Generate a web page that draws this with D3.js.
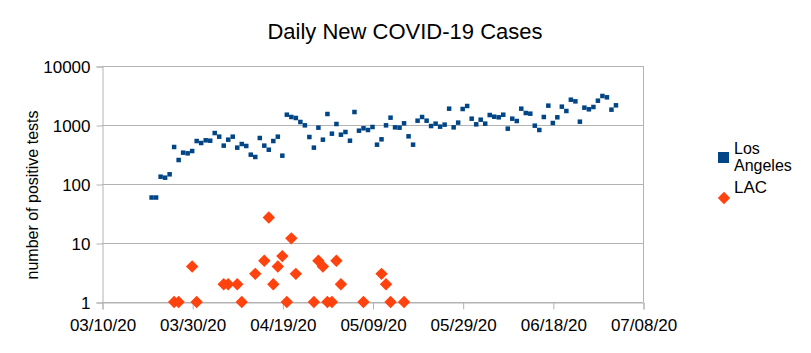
<!DOCTYPE html>
<html>
<head>
<meta charset="utf-8">
<script src="https://cdn.jsdelivr.net/npm/d3@7"></script>
<style>
  body { margin: 0; background: #fff; }
  text { font-family: "Liberation Sans", Arial, sans-serif; fill: #000; }
</style>
</head>
<body>
<div id="plot_area"></div>
<script>
// Chart data
const seriesNames = ['Los Angeles', 'LAC'];
const xTickDates = ['2020-03-10', '2020-03-30', '2020-04-19', '2020-05-09', '2020-05-29', '2020-06-18', '2020-07-08'];
const yTicks = [1, 10, 100, 1000, 10000];

// Los Angeles: one value per day starting on laStart
const laStart = '2020-03-21';
const laCases = [
  59, 59, 133, 128, 146, 424, 255, 340, 331, 362,
  535, 495, 550, 542, 731, 634, 447, 564, 634, 413,
  476, 441, 314, 287, 602, 447, 381, 535, 634, 302,
  1495, 1367, 1315, 1125, 987, 626, 413, 901, 564, 1536,
  713, 1040, 685, 761, 542, 1660, 801, 879, 823, 925,
  464, 572, 987, 1331, 912, 901, 1068, 643, 464, 1183,
  1367, 1183, 961, 1054, 937, 1014, 1891, 912, 1097, 1867,
  2099, 1280, 1026, 1230, 1054, 1476, 1383, 1350, 1495, 867,
  1280, 1168, 1891, 1597, 1556, 974, 823, 1367, 2128, 1081,
  1350, 2046, 1727, 2685, 2518, 1138, 1967, 1845, 2019, 2582,
  3103, 2946, 1820, 2155
];

// LAC: reported dates and values
const lacDates = [
  '2020-03-26', '2020-03-27', '2020-03-30', '2020-03-31', '2020-04-06', '2020-04-07',
  '2020-04-09', '2020-04-10', '2020-04-13', '2020-04-15', '2020-04-16', '2020-04-17',
  '2020-04-18', '2020-04-19', '2020-04-20', '2020-04-21', '2020-04-22', '2020-04-26',
  '2020-04-27', '2020-04-28', '2020-04-29', '2020-04-30', '2020-05-01', '2020-05-02',
  '2020-05-07', '2020-05-11', '2020-05-12', '2020-05-13', '2020-05-16'
];
const lacCases = [
  1, 1, 4, 1, 2, 2,
  2, 1, 3, 5, 27, 2,
  4, 6, 1, 12, 3, 1,
  5, 4, 1, 1, 5, 2,
  1, 3, 2, 1, 1
];

const w = 811;
const h = 353;
const plotLeft = 102, plotRight = 643, plotTop = 66, plotBottom = 302;
const blue = '#004586';
const orange = '#ff420e';
const grey = '#b3b3b3';

const parse = d3.utcParse('%Y-%m-%d');
const laData = laCases.map((v, i) => [d3.utcDay.offset(parse(laStart), i), v]);
const lacData = lacDates.map((d, i) => [parse(d), lacCases[i]]);

const xScale = d3.scaleUtc()
  .domain([parse(xTickDates[0]), parse(xTickDates[xTickDates.length - 1])])
  .range([plotLeft, plotRight]);

const yScale = d3.scaleLog()
  .domain([1, 10000])
  .range([plotBottom, plotTop]);

const svg = d3.select('#plot_area')
  .append('svg')
  .attr('width', w)
  .attr('height', h);

// horizontal gridlines
svg.append('g')
  .selectAll('line')
  .data(yTicks)
  .join('line')
  .attr('x1', plotLeft).attr('x2', plotRight)
  .attr('y1', d => Math.round(yScale(d)) + 0.5)
  .attr('y2', d => Math.round(yScale(d)) + 0.5)
  .attr('stroke', grey);

// right border
svg.append('line')
  .attr('x1', plotRight + 0.5).attr('x2', plotRight + 0.5)
  .attr('y1', plotTop).attr('y2', plotBottom)
  .attr('stroke', grey);

// x-axis
const xAxis = svg.append('g')
  .attr('transform', 'translate(0.5,' + (plotBottom + 0.5) + ')')
  .call(d3.axisBottom(xScale)
    .tickValues(xTickDates.map(parse))
    .tickFormat(d3.utcFormat('%m/%d/%y'))
    .tickSizeOuter(0)
    .tickSize(7)
    .tickPadding(9));
xAxis.select('.domain').attr('stroke', grey);
xAxis.selectAll('.tick line').attr('stroke', grey);
xAxis.selectAll('text').style('font-size', '17px').style('font-family', '"Liberation Sans", Arial, sans-serif');

// y-axis
const yAxis = svg.append('g')
  .attr('transform', 'translate(' + (plotLeft + 0.5) + ',0.5)')
  .call(d3.axisLeft(yScale)
    .tickValues(yTicks)
    .tickFormat(d3.format('d'))
    .tickSizeOuter(0)
    .tickSize(6)
    .tickPadding(6));
yAxis.select('.domain').attr('stroke', grey);
yAxis.selectAll('.tick line').attr('stroke', grey);
yAxis.selectAll('text').attr('dy', '0.36em').style('font-size', '17px').style('font-family', '"Liberation Sans", Arial, sans-serif');

// Los Angeles points
svg.append('g')
  .selectAll('rect')
  .data(laData)
  .join('rect')
  .attr('x', d => xScale(d[0]) - 2.25)
  .attr('y', d => yScale(d[1]) - 2.25)
  .attr('width', 4.5)
  .attr('height', 4.5)
  .attr('fill', blue);

// LAC points
const diamond = d3.symbol().type(d3.symbolDiamond2).size(98);
svg.append('g')
  .selectAll('path')
  .data(lacData)
  .join('path')
  .attr('transform', d => 'translate(' + xScale(d[0]) + ',' + yScale(d[1]) + ')')
  .attr('d', diamond)
  .attr('fill', orange);

// title
svg.append('text')
  .attr('x', 405)
  .attr('y', 39)
  .attr('text-anchor', 'middle')
  .style('font-size', '22px')
  .text('Daily New COVID-19 Cases');

// y-axis title
svg.append('text')
  .attr('transform', 'translate(38,195) rotate(-90)')
  .attr('text-anchor', 'middle')
  .style('font-size', '16px')
  .text('number of positive tests');

// legend
const legend = svg.append('g');
legend.append('rect')
  .attr('x', 718).attr('y', 152)
  .attr('width', 11).attr('height', 11)
  .attr('fill', blue);
legend.append('text')
  .attr('x', 734).attr('y', 154)
  .style('font-size', '16px')
  .selectAll('tspan')
  .data(seriesNames[0].split(' '))
  .join('tspan')
  .attr('x', 734)
  .attr('dy', (d, i) => i === 0 ? 0 : 17)
  .text(d => d);
legend.append('path')
  .attr('transform', 'translate(724,198)')
  .attr('d', diamond)
  .attr('fill', orange);
legend.append('text')
  .attr('x', 734).attr('y', 193)
  .style('font-size', '17px')
  .text(seriesNames[1]);
</script>
</body>
</html>
